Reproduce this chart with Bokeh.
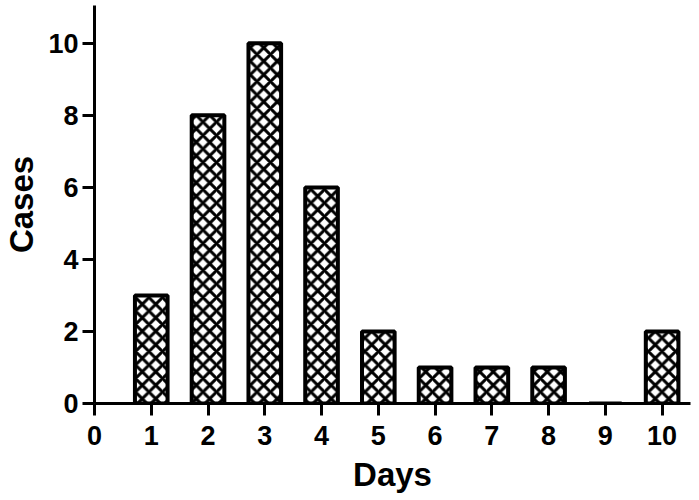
from bokeh.plotting import figure
from bokeh.models import Range1d, FixedTicker
from bokeh.embed import file_html
from bokeh.resources import INLINE

days = [1, 2, 3, 4, 5, 6, 7, 8, 9, 10]
cases = [3, 8, 10, 6, 2, 1, 1, 1, 0, 2]
x_ticks = [0, 1, 2, 3, 4, 5, 6, 7, 8, 9, 10]
y_ticks = [0, 2, 4, 6, 8, 10]

FONT = "Liberation Sans"

p = figure(width=699, height=500, output_backend="svg", toolbar_location=None,
           x_range=Range1d(0, 10.5), y_range=Range1d(0, 11.05),
           min_border_left=94, min_border_right=9, min_border_top=5, min_border_bottom=97)

p.vbar(x=days, top=cases, width=0.575, bottom=0,
       fill_color="white", line_color="black", line_width=4,
       hatch_pattern="diagonal_cross", hatch_color="black",
       hatch_scale=13.5, hatch_weight=3)

p.grid.visible = False
p.outline_line_color = None
p.background_fill_color = "white"
p.border_fill_color = "white"

for ax in (p.xaxis[0], p.yaxis[0]):
    ax.axis_line_width = 3
    ax.axis_line_color = "black"
    ax.major_tick_line_width = 3
    ax.major_tick_line_color = "black"
    ax.major_tick_in = 0
    ax.major_tick_out = 12
    ax.minor_tick_line_color = None
    ax.major_label_text_font = FONT
    ax.major_label_text_font_style = "bold"
    ax.major_label_text_font_size = "27px"
    ax.major_label_text_color = "black"
    ax.axis_label_text_font = FONT
    ax.axis_label_text_font_style = "bold"
    ax.axis_label_text_font_size = "33px"
    ax.axis_label_text_color = "black"

p.xaxis.ticker = FixedTicker(ticks=x_ticks)
p.yaxis.ticker = FixedTicker(ticks=y_ticks)
p.xaxis.axis_label = "Days"
p.yaxis.axis_label = "Cases"
p.xaxis.major_label_standoff = 10
p.yaxis.major_label_standoff = 4
p.xaxis.axis_label_standoff = 8
p.yaxis.axis_label_standoff = 5

open("out.html", "w").write(file_html(p, INLINE))
